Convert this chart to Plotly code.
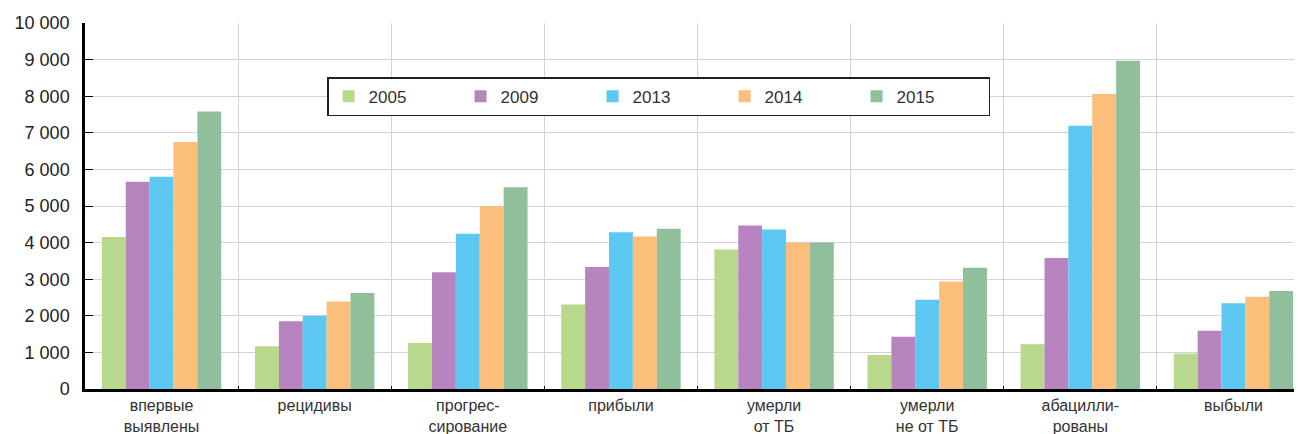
import plotly.graph_objects as go

categories = ["впервые<br>выявлены", "рецидивы", "прогрес-<br>сирование", "прибыли",
              "умерли<br>от ТБ", "умерли<br>не от ТБ", "абацилли-<br>рованы", "выбыли"]
years = ["2005", "2009", "2013", "2014", "2015"]
v2005 = [4150, 1170, 1260, 2310, 3810, 930, 1220, 970]
v2009 = [5660, 1850, 3190, 3330, 4470, 1430, 3580, 1590]
v2013 = [5800, 2000, 4240, 4280, 4360, 2440, 7190, 2340]
v2014 = [6750, 2390, 4990, 4170, 4000, 2940, 8060, 2520]
v2015 = [7580, 2620, 5510, 4380, 4000, 3310, 8970, 2680]
colors = ["#b8d98c", "#b884bf", "#5cc8f2", "#fbbe7b", "#8fbf9b"]

series = [v2005, v2009, v2013, v2014, v2015]

fig = go.Figure()
for name, vals, col in zip(years, series, colors):
    fig.add_trace(go.Bar(x=categories, y=vals, name=name, marker_color=col,
                         marker_line_width=0))

fig.update_layout(
    width=1302, height=434,
    margin=dict(l=77, r=0, t=15, b=53),
    paper_bgcolor="white", plot_bgcolor="white",
    barmode="group", bargap=0.22, bargroupgap=0,
    separators=", ",
    font=dict(family="Liberation Sans, Arial", size=16, color="#222"),
    legend=dict(orientation="h", x=0.1976, y=0.852, xanchor="left", yanchor="top",
                bordercolor="#222", borderwidth=1.5, bgcolor="white",
                entrywidth=87, font=dict(size=17, color="#333"),
                traceorder="normal"),
)
fig.update_xaxes(range=[-0.5, 7.5], tickson="boundaries", showgrid=True,
                 gridcolor="#d4d4d4", gridwidth=1, showline=True, linecolor="black",
                 linewidth=2.5, ticks="inside", ticklen=3, tickcolor="black",
                 ticklabelstandoff=0, automargin=False,
                 tickfont=dict(size=16, color="#333"))
fig.update_yaxes(range=[0, 10000], dtick=1000, tickformat=",d", showgrid=True,
                 gridcolor="#d4d4d4", gridwidth=1, showline=True, linecolor="black",
                 linewidth=2.5, ticks="inside", ticklen=8, tickcolor="black",
                 ticklabelstandoff=9, automargin=False,
                 tickfont=dict(size=18, color="#222"),
                 zeroline=False)

fig.write_html("out.html")
